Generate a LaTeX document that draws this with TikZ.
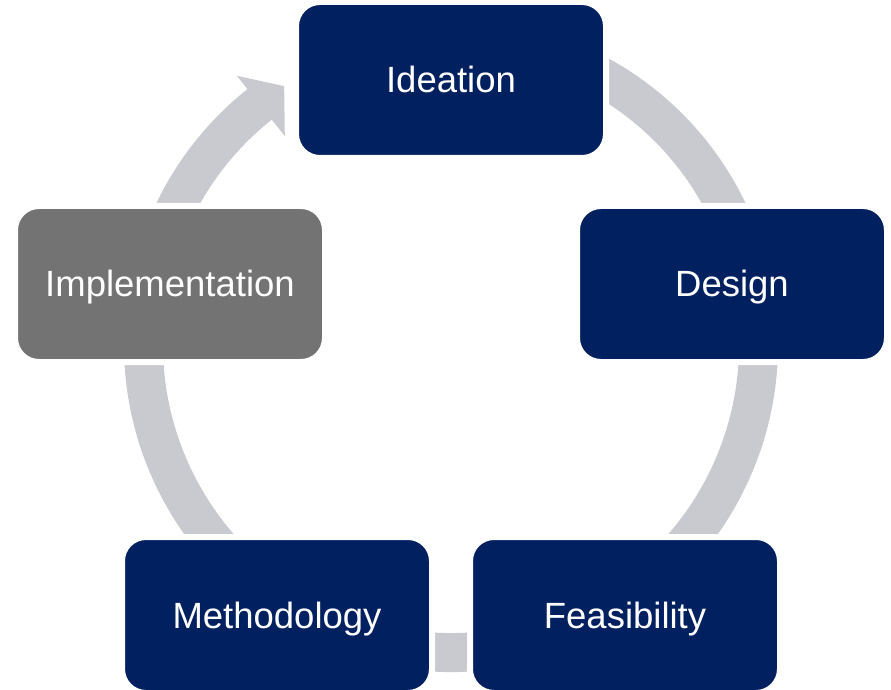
\documentclass[tikz,border=0pt]{standalone}
\usepackage{fontspec}
\setmainfont{Liberation Sans}
\usetikzlibrary{calc}
\definecolor{navy}{RGB}{0,32,96}
\definecolor{boxgray}{RGB}{115,115,115}
\definecolor{bandgray}{RGB}{201,202,208}
\begin{document}
\begin{tikzpicture}[x=1pt,y=1pt,
  stepbox/.style={draw=white, line width=6pt, fill=navy, rounded corners=24pt,
    minimum width=310pt, minimum height=156pt, inner sep=0pt, text=white,
    text height=26pt, text depth=0pt,
    font=\fontsize{36.5}{40}\selectfont},
  band/.style={draw=bandgray, line width=39pt}]
\useasboundingbox (0,0) rectangle (891,689);
\coordinate (C) at (451,344);
% ring with a gap for the arrow head
\draw[band] ($(C)+(116:307.5)$) arc[start angle=116, end angle=-231.7, radius=307.5];
\fill[bandgray] ($(C)+(128.5:344)$) -- ($(C)+(122.8:308)$) -- ($(C)+(128.5:267)$) -- cycle;
% boxes
\node[stepbox] (ideation) at (451,609) {Ideation};
\node[stepbox] (design) at (732,405) {Design};
\node[stepbox] (feas) at (625,74) {Feasibility};
\node[stepbox] (meth) at (277,74) {Methodology};
\node[stepbox, fill=boxgray] (impl) at (170,405) {Implementation};
\end{tikzpicture}
\end{document}
